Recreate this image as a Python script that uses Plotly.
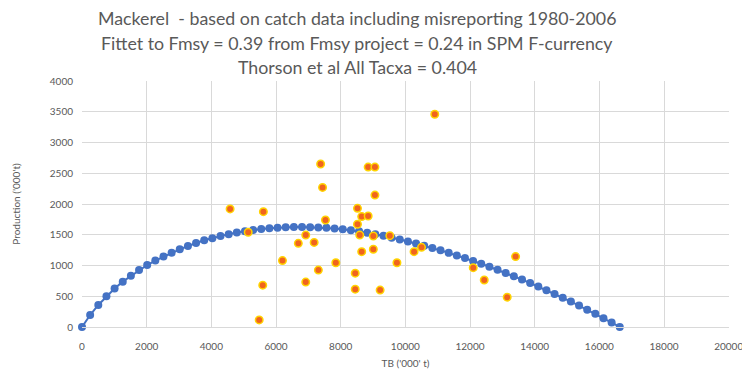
import plotly.graph_objects as go

# Observed catch / production points (TB, production), '000 t
obs_tb = [7380, 8850, 9060, 7440, 9060, 4580, 5610, 8520, 8650, 8850,
          7530, 8520, 5140, 8590, 9010, 9520, 6920, 6690, 7180, 8650,
          9010, 10500, 10270, 6200, 7850, 9740, 8450, 6920, 7310, 5590,
          8450, 9220, 5480, 12100, 12440, 13150, 13410, 10910]
obs_prod = [2650, 2600, 2600, 2270, 2145, 1920, 1875, 1930, 1795, 1805,
            1740, 1670, 1540, 1495, 1480, 1485, 1495, 1360, 1375, 1225,
            1265, 1295, 1225, 1080, 1045, 1045, 875, 730, 925, 680,
            615, 600, 115, 965, 765, 485, 1145, 3460]

# Fitted surplus production curve (TB, production), '000 t
curve_tb = [0, 252, 504, 756, 1008, 1260, 1512, 1764, 2016, 2268,
            2520, 2772, 3024, 3276, 3528, 3780, 4032, 4284, 4536, 4788,
            5040, 5292, 5544, 5796, 6048, 6300, 6552, 6804, 7056, 7308,
            7560, 7812, 8064, 8316, 8568, 8820, 9072, 9324, 9576, 9828,
            10080, 10332, 10584, 10836, 11088, 11340, 11592, 11844, 12096, 12348,
            12600, 12852, 13104, 13356, 13608, 13860, 14112, 14364, 14616, 14868,
            15120, 15372, 15624, 15876, 16128, 16380, 16632]
curve_prod = [0, 195, 358, 500, 625, 737, 832, 925, 1008, 1080,
              1145, 1208, 1263, 1317, 1365, 1410, 1445, 1480, 1510, 1536,
              1558, 1577, 1593, 1605, 1614, 1620, 1624, 1626, 1623, 1619,
              1612, 1602, 1589, 1573, 1555, 1533, 1508, 1482, 1453, 1423,
              1391, 1357, 1322, 1285, 1246, 1206, 1164, 1120, 1075, 1028,
              980, 930, 879, 826, 771, 715, 657, 598, 538, 477,
              413, 348, 282, 214, 144, 73, 0]

title_lines = ["Mackerel  - based on catch data including misreporting 1980-2006",
               "Fittet to Fmsy = 0.39 from Fmsy project = 0.24 in SPM F-currency",
               "Thorson et al All Tacxa = 0.404"]
title_y_px = [18, 43, 67]
x_title = "TB ('000' t)"
y_title = "Production ('000't)"

grey = "#595959"
W, H = 742, 372
ML, MR, MT, MB = 82, 13, 81, 45
PW, PH = W - ML - MR, H - MT - MB

fig = go.Figure()
fig.add_trace(go.Scatter(
    x=curve_tb, y=curve_prod, mode="lines+markers",
    line=dict(color="#4472C4", width=2),
    marker=dict(color="#4472C4", size=8),
    showlegend=False, cliponaxis=False))
fig.add_trace(go.Scatter(
    x=obs_tb, y=obs_prod, mode="markers",
    marker=dict(color="#F0641E", size=7.5, line=dict(color="#FFD400", width=1.5)),
    showlegend=False, cliponaxis=False))

for txt, ypx in zip(title_lines, title_y_px):
    fig.add_annotation(text=txt, xref="paper", yref="paper",
                       x=(357 - ML) / PW, xanchor="center",
                       y=1 + (MT - ypx) / PH, yanchor="middle",
                       showarrow=False,
                       font=dict(family="Lato, Open Sans, sans-serif", size=17.8, color=grey))

fig.update_layout(
    width=W, height=H,
    margin=dict(l=ML, r=MR, t=MT, b=MB, autoexpand=False),
    paper_bgcolor="white", plot_bgcolor="white",
    font=dict(family="Lato, Open Sans, sans-serif", color=grey, size=10),
    xaxis=dict(range=[0, 20010], dtick=2000, tickformat="d", showgrid=True,
               gridcolor="#D9D9D9", gridwidth=1, zeroline=False, showline=True,
               linecolor="#D9D9D9", ticks="", ticklabelstandoff=10,
               ticklabeloverflow="allow", automargin=False,
               tickfont=dict(size=10, color=grey),
               title=dict(text=x_title, font=dict(size=10, color=grey), standoff=8)),
    yaxis=dict(range=[0, 4000], dtick=500, tickformat="d", showgrid=True,
               gridcolor="#D9D9D9", gridwidth=1, zeroline=False, showline=False,
               ticks="", ticklabelstandoff=8, automargin=False,
               tickfont=dict(size=10, color=grey),
               title=dict(text=y_title, font=dict(size=10, color=grey), standoff=27)),
)

fig.write_html("out.html")
